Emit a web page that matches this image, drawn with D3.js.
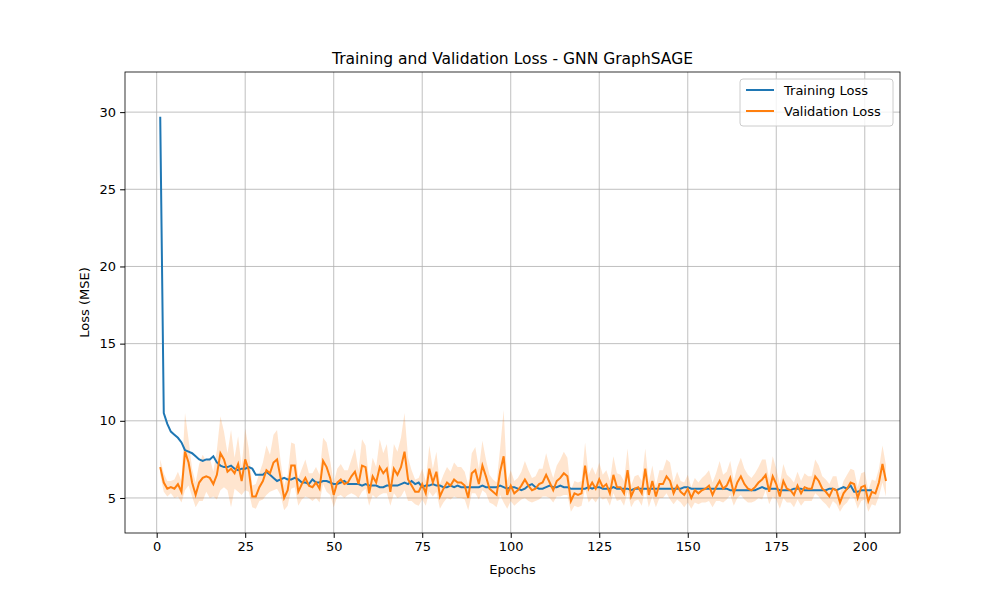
<!DOCTYPE html>
<html><head><meta charset="utf-8">
<script src="https://cdn.jsdelivr.net/npm/d3@7"></script>
<style>body{margin:0;background:#fff}text{font-family:"DejaVu Sans",sans-serif}</style>
</head><body><svg id="c" width="1000" height="600"></svg>
<script>
const trainLoss=[29.7,10.5,9.8,9.3,9.1,8.9,8.6,8.1,8.0,7.9,7.7,7.5,7.4,7.5,7.5,7.7,7.3,7.1,7.0,7.0,7.1,6.9,6.8,6.9,6.9,7.0,6.9,6.5,6.5,6.5,6.7,6.5,6.3,6.1,6.2,6.3,6.2,6.2,6.3,6.2,6.0,6.0,5.9,6.2,6.0,6.0,6.1,6.1,6.0,5.9,5.9,6.0,6.1,5.9,5.9,5.9,5.9,5.8,5.9,5.8,5.8,5.8,5.7,5.7,5.8,5.8,5.8,5.8,5.9,6.0,5.9,6.1,5.9,6.0,5.7,5.8,5.8,5.9,5.8,5.8,5.7,5.7,5.8,5.7,5.8,5.7,5.7,5.7,5.7,5.7,5.7,5.8,5.7,5.7,5.7,5.7,5.8,5.7,5.6,5.7,5.7,5.6,5.5,5.6,5.8,5.9,5.7,5.6,5.6,5.7,5.8,5.7,5.7,5.8,5.7,5.7,5.6,5.6,5.6,5.6,5.6,5.7,5.6,5.7,5.7,5.6,5.6,5.6,5.7,5.6,5.6,5.6,5.6,5.5,5.6,5.6,5.6,5.6,5.6,5.6,5.6,5.6,5.6,5.6,5.6,5.6,5.6,5.6,5.7,5.7,5.6,5.6,5.6,5.6,5.6,5.6,5.6,5.6,5.6,5.6,5.6,5.5,5.5,5.5,5.5,5.5,5.5,5.5,5.5,5.6,5.7,5.6,5.6,5.6,5.6,5.5,5.5,5.5,5.5,5.6,5.6,5.6,5.5,5.5,5.5,5.5,5.5,5.5,5.5,5.6,5.6,5.5,5.6,5.7,5.6,5.8,5.4,5.4,5.5,5.5,5.5,5.5];
const valLoss=[7.0,6.0,5.6,5.7,5.6,5.9,5.4,8.0,7.3,6.0,5.2,6.0,6.3,6.4,6.3,5.9,6.5,7.9,7.5,6.7,6.9,6.6,7.2,6.1,7.5,6.8,5.1,5.1,5.7,6.1,6.8,6.6,7.3,7.5,6.3,5.0,5.5,7.1,7.1,5.4,5.9,6.3,5.8,5.7,6.0,5.6,7.4,7.0,6.3,5.2,6.0,6.2,5.9,6.0,6.4,6.7,5.9,7.1,7.0,5.3,6.4,6.0,7.0,6.6,6.9,5.4,6.9,6.5,7.0,8.0,6.2,5.8,5.4,5.4,5.9,5.3,6.9,6.0,6.7,5.1,5.6,6.0,5.8,6.2,6.0,6.0,5.8,5.0,6.6,6.8,5.9,7.1,6.4,5.6,5.4,5.2,6.7,7.7,5.2,5.8,5.3,5.5,5.8,6.2,5.8,5.5,5.6,5.9,6.0,6.5,6.0,5.5,6.1,6.3,6.6,6.4,4.8,5.3,5.2,5.3,7.1,5.6,6.0,5.6,6.2,5.7,5.9,5.3,6.5,5.7,5.7,5.3,6.8,5.1,5.6,5.7,5.3,6.9,5.2,6.1,5.1,5.9,5.9,6.4,6.1,5.3,5.8,5.4,5.2,5.6,5.0,5.5,5.3,5.5,5.6,5.8,5.2,5.7,6.1,5.6,5.8,6.3,5.3,6.0,6.4,5.9,5.6,5.5,5.7,6.0,6.2,6.5,5.4,6.4,5.9,5.1,6.1,5.6,5.5,5.2,5.8,5.3,5.7,5.6,5.6,6.4,6.1,5.6,5.4,5.1,5.6,5.5,4.7,5.3,5.6,6.0,5.9,5.0,5.7,5.8,4.8,5.4,5.3,6.0,7.2,6.1];
const valStd=[0.5,0.6,0.5,0.4,0.6,0.8,0.7,2.5,1.5,0.9,0.8,1.2,1.5,1.0,1.3,0.8,1.6,2.4,1.8,1.2,2.5,1.0,1.8,0.9,2.0,1.4,0.7,0.8,0.9,1.2,1.6,1.2,1.8,1.9,1.1,0.8,1.0,1.5,1.4,0.9,1.0,1.2,0.8,0.9,1.0,0.9,1.5,1.6,1.1,0.8,0.9,1.0,0.9,0.8,1.1,1.5,0.9,1.7,1.4,0.8,1.2,1.0,1.8,1.3,1.6,0.9,1.6,1.5,1.9,2.5,1.4,1.0,0.8,0.9,1.0,0.8,1.5,0.9,1.3,0.8,0.9,1.0,0.9,1.1,1.0,1.0,0.9,0.8,1.3,1.5,1.0,1.6,1.1,0.9,0.8,0.8,1.5,3.0,0.9,1.0,0.8,0.8,0.9,1.2,1.0,0.8,0.8,1.0,0.9,1.4,1.0,0.8,1.0,1.2,1.4,1.2,0.7,0.8,0.8,0.8,1.5,0.9,1.0,0.9,1.1,0.8,0.9,0.8,1.2,0.9,0.8,0.8,1.4,0.7,0.8,0.8,0.8,1.3,0.8,1.0,0.7,0.9,0.9,1.1,1.2,0.7,0.9,0.7,0.8,0.9,0.7,0.8,0.7,0.8,0.9,1.0,0.8,0.9,1.3,0.9,0.9,1.1,0.8,1.0,1.2,1.0,0.9,0.8,0.9,1.0,1.3,1.0,0.8,1.3,1.0,0.8,1.1,0.9,0.8,0.8,0.9,0.8,0.9,0.8,0.8,1.1,1.0,0.8,0.8,0.8,0.8,0.9,0.6,0.8,0.9,0.9,0.9,0.7,0.9,0.9,0.7,0.8,0.8,0.9,1.2,1.0];
const epochs=valLoss.map((d,i)=>i+1);
const xTicks=[0,25,50,75,100,125,150,175,200];
const yTicks=[5,10,15,20,25,30];
const svg=d3.select("#c");
const L=125,R=900,T=72,B=533;
const x=d3.scaleLinear().domain([-8.95,209.95]).range([L,R]);
const y=d3.scaleLinear().domain([2.73,32.6]).range([B,T]);
const g=svg.append("g");
xTicks.forEach(t=>g.append("line").attr("x1",x(t)).attr("x2",x(t)).attr("y1",T).attr("y2",B).attr("stroke","#b0b0b0").attr("stroke-width",0.8));
yTicks.forEach(t=>g.append("line").attr("y1",y(t)).attr("y2",y(t)).attr("x1",L).attr("x2",R).attr("stroke","#b0b0b0").attr("stroke-width",0.8));
svg.append("path").datum(epochs).attr("fill","#ff7f0e").attr("fill-opacity",0.2)
 .attr("d",d3.area().x(e=>x(e)).y0(e=>y(valLoss[e-1]-valStd[e-1])).y1(e=>y(valLoss[e-1]+valStd[e-1])));
const ln=(arr)=>d3.line().x((d,i)=>x(i+1)).y(d=>y(d))(arr);
svg.append("path").attr("d",ln(trainLoss)).attr("fill","none").attr("stroke","#1f77b4").attr("stroke-width",2);
svg.append("path").attr("d",ln(valLoss)).attr("fill","none").attr("stroke","#ff7f0e").attr("stroke-width",2);
svg.append("rect").attr("x",L).attr("y",T).attr("width",R-L).attr("height",B-T).attr("fill","none").attr("stroke","#000").attr("stroke-width",0.8);
svg.append("g").attr("transform",`translate(0,${B})`).call(d3.axisBottom(x).tickValues(xTicks).tickSize(4.9).tickPadding(4)).call(a=>{a.select(".domain").remove();a.selectAll("text").attr("font-size",13).attr("fill","#000").style("font-family","DejaVu Sans");});
svg.append("g").attr("transform",`translate(${L},0)`).call(d3.axisLeft(y).tickValues(yTicks).tickSize(4.9).tickPadding(4)).call(a=>{a.select(".domain").remove();a.selectAll("text").attr("font-size",13).attr("fill","#000").style("font-family","DejaVu Sans");});
svg.append("text").attr("x",(L+R)/2).attr("y",64).attr("text-anchor","middle").attr("font-size",15.5).text("Training and Validation Loss - GNN GraphSAGE");
svg.append("text").attr("x",(L+R)/2).attr("y",574).attr("text-anchor","middle").attr("font-size",13).text("Epochs");
svg.append("text").attr("transform",`translate(89,${(T+B)/2}) rotate(-90)`).attr("text-anchor","middle").attr("font-size",13).text("Loss (MSE)");
const lg=svg.append("g").attr("transform","translate(740,79)");
lg.append("rect").attr("width",153).attr("height",47).attr("rx",3).attr("fill","#fff").attr("fill-opacity",0.8).attr("stroke","#ccc");
[["Training Loss","#1f77b4"],["Validation Loss","#ff7f0e"]].forEach((d,i)=>{
 lg.append("line").attr("x1",6).attr("x2",34).attr("y1",11+i*21).attr("y2",11+i*21).attr("stroke",d[1]).attr("stroke-width",2);
 lg.append("text").attr("x",44).attr("y",16+i*21).attr("font-size",13).text(d[0]);
});
</script></body></html>
